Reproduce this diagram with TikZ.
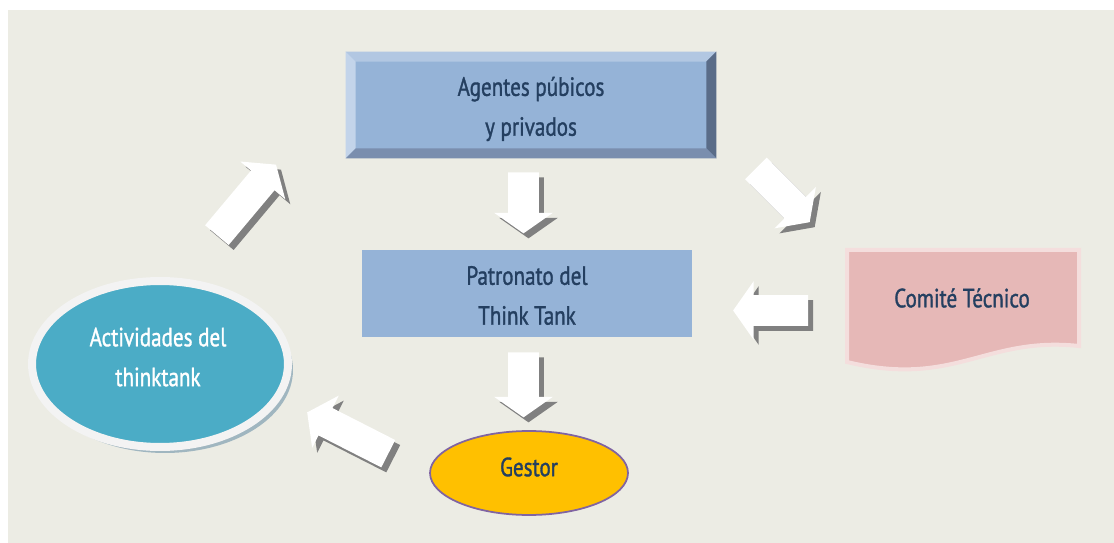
\documentclass[tikz,border=0pt]{standalone}
\usepackage{fontspec}
\setmainfont{PT Sans}[FakeStretch=0.8, FakeBold=1.2]
\usetikzlibrary{shapes.arrows, shapes.geometric, shadows, calc}
\definecolor{bgGrey}{RGB}{236,236,228}
\definecolor{boxBlue}{RGB}{149,179,215}
\definecolor{bevTop}{RGB}{178,199,226}
\definecolor{bevLeft}{RGB}{195,212,234}
\definecolor{bevRight}{RGB}{90,108,136}
\definecolor{bevBottom}{RGB}{122,142,174}
\definecolor{txtBlue}{RGB}{36,63,96}
\definecolor{comPink}{RGB}{230,184,183}
\definecolor{comRim}{RGB}{244,222,221}
\definecolor{actTeal}{RGB}{75,172,198}
\definecolor{actRim}{RGB}{243,243,243}
\definecolor{actShadow}{RGB}{160,182,192}
\definecolor{gesGold}{RGB}{255,192,0}
\definecolor{gesEdge}{RGB}{128,100,162}
\definecolor{arrShadow}{RGB}{128,128,128}
\tikzset{
    lbl/.style={font=\fontsize{15}{22.7}\selectfont, text=txtBlue, align=center},
    flatBox/.style={rectangle, fill=boxBlue, inner sep=0pt},
    blkArrow/.style={single arrow, fill=white, inner sep=0.3cm, minimum width=1.16cm,
        single arrow head extend=0.28cm, single arrow tip angle=110, single arrow head indent=0pt},
    blkShadow/.style={blkArrow, fill=arrShadow}
}
\newcommand{\blkarrow}[5]{%
    \node[blkShadow, rotate=#4, minimum height=#5] at (#2+5,#3+5) {};
    \node[blkArrow, rotate=#4, minimum height=#5] (#1) at (#2,#3) {};}

\begin{document}
\begin{tikzpicture}[x=0.02cm, y=-0.02cm]
    \useasboundingbox (0,0) rectangle (1114,543);
    \fill[bgGrey] (8,10) rectangle (1114,543);
    \node[flatBox, minimum width=7.4cm, minimum height=2.12cm] (agentes) at (531,105) {};
    \fill[bevTop] (agentes.north west) -- (agentes.north east) -- ($(agentes.north east)+(-10,10)$) -- ($(agentes.north west)+(10,10)$) -- cycle;
    \fill[bevLeft] (agentes.north west) -- (agentes.south west) -- ($(agentes.south west)+(10,-10)$) -- ($(agentes.north west)+(10,10)$) -- cycle;
    \fill[bevRight] (agentes.north east) -- (agentes.south east) -- ($(agentes.south east)+(-10,-10)$) -- ($(agentes.north east)+(-10,10)$) -- cycle;
    \fill[bevBottom] (agentes.south west) -- (agentes.south east) -- ($(agentes.south east)+(-10,-10)$) -- ($(agentes.south west)+(10,-10)$) -- cycle;
    \node[lbl] (agentesTxt) at ($(agentes)+(0,4)$) {Agentes púbicos\\y privados};
    \node[flatBox, minimum width=6.6cm, minimum height=1.74cm] (patronato) at (527,293.5) {};
    \node[lbl] (patronatoTxt) at ($(patronato)+(0,2)$) {Patronato del\\Think Tank};
    \draw[comRim, line width=0.08cm, fill=comPink] (847,250) -- (1079,250) -- (1079,346)
        .. controls (985,336) and (955,388) .. (847,362) -- cycle;
    \node[lbl] (comite) at (962,298) {Comité Técnico};
    \node[ellipse, fill=actTeal, draw=actRim, line width=0.16cm, minimum width=5.12cm, minimum height=3.32cm,
        drop shadow={shadow xshift=0.1cm, shadow yshift=-0.12cm, fill=actShadow, opacity=1}] (activ) at (160,364) {};
    \node[lbl, text=white] (activTxt) at ($(activ)+(-2,-7)$) {Actividades del\\thinktank};
    \node[ellipse, fill=gesGold, draw=gesEdge, line width=1pt, minimum width=3.96cm, minimum height=1.68cm] (gestor) at (529,473) {};
    \node[lbl] (gestorTxt) at ($(gestor)+(0,-6)$) {Gestor};
    \blkarrow{arrAgPat}{523.5}{197.5}{-90}{1.22cm}
    \blkarrow{arrPatGes}{523.5}{379.5}{-90}{1.3cm}
    \blkarrow{arrComPat}{776}{310.5}{180}{1.5cm}
    \blkarrow{arrActAg}{243}{204}{50}{1.84cm}
    \blkarrow{arrAgCom}{779}{191.5}{-45}{1.52cm}
    \blkarrow{arrGesAct}{352.5}{435.5}{153}{1.82cm}
\end{tikzpicture}
\end{document}
